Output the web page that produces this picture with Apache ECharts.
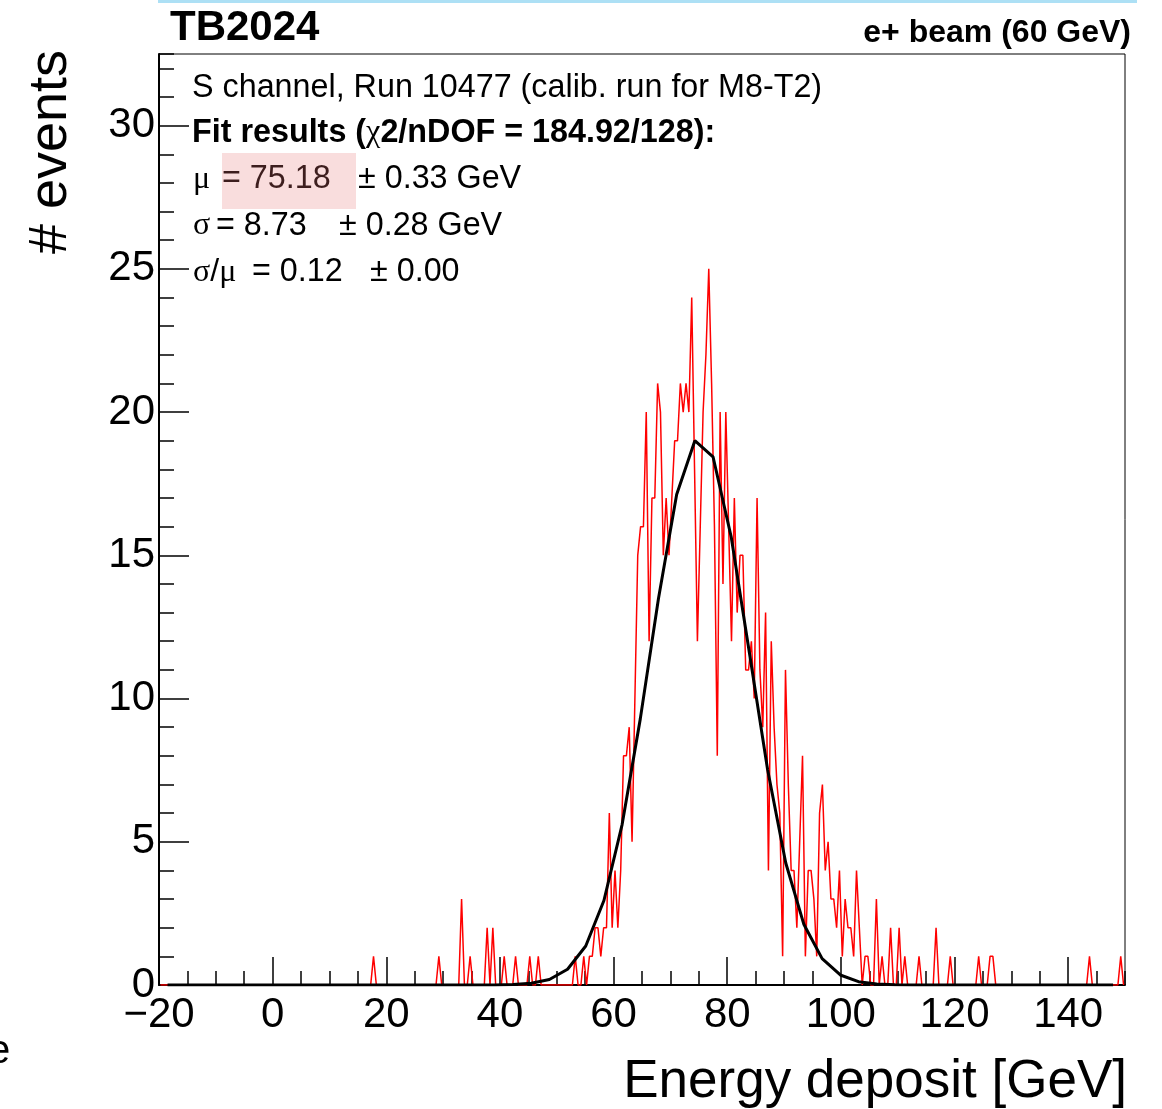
<!DOCTYPE html>
<html>
<head>
<meta charset="utf-8">
<script src="https://cdn.jsdelivr.net/npm/echarts@6/dist/echarts.min.js"></script>
<style>
  html, body { margin: 0; padding: 0; background: #ffffff; }
  #chart { width: 1162px; height: 1109px; }
</style>
</head>
<body>
<div id="chart"></div>
<script>
// ---------------- data ----------------
// histogram: 340 bins of 0.5 GeV from -20 to 150 GeV (counts per bin)
const binLow = -20;
const binWidth = 0.5;
const counts = [
  0,0,0,0,0,0,0,0,0,0,0,0,0,0,0,0,0,0,0,0,
  0,0,0,0,0,0,0,0,0,0,0,0,0,0,0,0,0,0,0,0,
  0,0,0,0,0,0,0,0,0,0,0,0,0,0,0,0,0,0,0,0,
  0,0,0,0,0,0,0,0,0,0,0,0,0,0,0,1,0,0,0,0,
  0,0,0,0,0,0,0,0,0,0,0,0,0,0,0,0,0,0,1,0,
  0,0,0,0,0,0,3,0,0,1,0,0,0,0,0,2,0,2,0,0,
  0,1,0,0,0,1,0,0,0,0,1,0,0,1,0,0,0,0,0,0,
  0,0,0,0,0,0,1,0,0,1,0,1,1,2,2,1,2,2,6,2,
  4,2,4,8,8,9,5,10,15,16,16,20,12,17,17,21,20,15,17,15,
  17,19,19,21,20,21,20,24,18,12,16,20,22,25,21,16,8,20,14,20,
  16,12,17,13,15,15,11,11,12,10,17,11,9,13,4,12,9,7,6,1,
  11,7,4,4,2,5,8,1,4,4,3,1,6,7,4,5,3,3,2,4,
  1,3,2,2,1,4,2,0,1,1,0,0,3,0,1,0,0,2,0,0,
  2,0,1,0,0,0,0,1,0,0,0,0,0,2,0,0,0,0,1,0,
  0,0,0,0,0,0,0,0,1,0,0,0,1,1,0,0,0,0,0,0,
  0,0,0,0,0,0,0,0,0,0,0,0,0,0,0,0,0,0,0,0,
  0,0,0,0,0,0,0,1,0,0,0,0,0,0,0,0,0,0,1,0
];

// fitted Gaussian as drawn
const fitX = [-18.5, 36.3, 39.1, 42.3, 45.5, 48.7, 51.9, 55.1, 58.3, 61.5, 64.7, 67.9, 71.1, 74.3,
              77.5, 80.7, 83.9, 87.1, 90.3, 93.5, 96.7, 99.9, 103.1, 106.3, 109.5, 112.7, 147.9];
const fitY = [0, 0.001, 0.004, 0.016, 0.059, 0.19, 0.55, 1.36, 2.95, 5.6, 9.29, 13.49, 17.12, 19.0,
              18.44, 15.64, 11.6, 7.52, 4.26, 2.11, 0.92, 0.35, 0.115, 0.033, 0.008, 0.002, 0];

// axis ticks
const xMin = -20, xMax = 150, xMajor = 20, xMinor = 5;
const yMin = 0, yMax = 32.5, yMajor = 5, yMinor = 1;

// texts
const titleLeft = 'TB2024';
const titleRight = 'e+ beam (60 GeV)';
const xTitle = 'Energy deposit [GeV]';
const yTitle = '# events';
const infoLine1 = 'S channel, Run 10477 (calib. run for M8-T2)';

// ---------------- chart ----------------
const sans = '"Liberation Sans", Arial, Helvetica, sans-serif';
const serif = '"Liberation Serif", "Times New Roman", serif';

const histData = counts.map((c, i) => [binLow + binWidth * (i + 0.5), c]);
const fitData = fitX.map((x, i) => [x, fitY[i]]);

function txt(x, y, text, size, opts) {
  opts = opts || {};
  return {
    type: 'text', x: x, y: y, rotation: opts.rotation || 0, silent: true, z: 10,
    style: {
      text: text,
      fontSize: size,
      fontFamily: opts.family || sans,
      fontWeight: opts.weight || 'normal',
      fill: opts.color || '#000',
      textAlign: opts.align || 'left',
      textVerticalAlign: 'middle',
      align: opts.align || 'left',
      verticalAlign: 'middle',
      rich: opts.rich
    }
  };
}

const tickStyle = { color: '#000', width: 1.5 };
const chart = echarts.init(document.getElementById('chart'), null, { renderer: 'canvas' });

const option = {
  animation: false,
  backgroundColor: '#ffffff',
  grid: {
    left: 159, top: 54, width: 966, height: 931,
    show: true, borderColor: '#000', borderWidth: 1, backgroundColor: 'transparent'
  },
  xAxis: [
    {
      type: 'value', min: xMin, max: xMax, interval: xMajor, position: 'bottom',
      axisLine: { show: true, onZero: false, lineStyle: { color: '#000', width: 2 } },
      axisTick: { show: true, inside: true, length: 28, lineStyle: tickStyle },
      splitLine: { show: false },
      axisLabel: {
        show: true, fontSize: 42, fontFamily: sans, color: '#000', margin: 9,
        showMaxLabel: false, showMinLabel: true,
        formatter: v => (v < 0 ? '\u2212' + (-v) : String(v))
      }
    },
    {
      type: 'value', min: xMin, max: xMax, interval: xMinor, position: 'bottom',
      axisLine: { show: false, onZero: false },
      axisTick: { show: true, inside: true, length: 14, lineStyle: tickStyle },
      splitLine: { show: false },
      axisLabel: { show: false }
    }
  ],
  yAxis: [
    {
      type: 'value', min: yMin, max: yMax, interval: yMajor, position: 'left',
      axisLine: { show: true, onZero: false, lineStyle: { color: '#000', width: 2 } },
      axisTick: { show: true, inside: true, length: 30, lineStyle: tickStyle },
      splitLine: { show: false },
      axisLabel: {
        show: true, fontSize: 42, fontFamily: sans, color: '#000', margin: 4,
        showMaxLabel: false, showMinLabel: true
      }
    },
    {
      type: 'value', min: yMin, max: yMax, interval: yMinor, position: 'left',
      axisLine: { show: false, onZero: false },
      axisTick: { show: true, inside: true, length: 15, lineStyle: tickStyle },
      splitLine: { show: false },
      axisLabel: { show: false }
    }
  ],
  series: [
    {
      name: 'data', type: 'line', xAxisIndex: 0, yAxisIndex: 0,
      data: histData, symbol: 'none', showSymbol: false,
      lineStyle: { color: '#ff0000', width: 1.5 }, z: 3, silent: true
    },
    {
      name: 'fit', type: 'line', xAxisIndex: 0, yAxisIndex: 0,
      data: fitData, symbol: 'none', showSymbol: false,
      lineStyle: { color: '#000000', width: 3 }, z: 4, silent: true
    }
  ],
  graphic: {
    elements: [
      { type: 'rect', shape: { x: 158, y: 0, width: 979, height: 3 }, style: { fill: '#ade0f5' }, silent: true, z: 1 },
      txt(170, 28.5, titleLeft, 42, { weight: 'bold' }),
      txt(1131, 33, titleRight, 32, { weight: 'bold', align: 'right' }),
      txt(1127, 1082, xTitle, 53, { align: 'right' }),
      txt(51, 152, yTitle, 54, { align: 'center', rotation: Math.PI / 2 }),
      txt(-12, 1052, 'e', 40, {}),
      // info box
      txt(192, 88.5, infoLine1, 32.3, {}),
      txt(192, 133, '{b|Fit results (}{g|\u03c7}{b|2/nDOF = 184.92/128):}', 32, {
        rich: {
          b: { fontSize: 32.3, fontWeight: 'bold', fontFamily: sans, fill: '#000' },
          g: { fontSize: 32.3, fontWeight: 'normal', fontFamily: serif, fill: '#000' }
        }
      }),
      { type: 'rect', shape: { x: 222, y: 153, width: 134, height: 56 }, style: { fill: '#f9dddd' }, silent: true, z: 9 },
      txt(193, 179.5, '\u03bc', 32, { family: serif }),
      txt(222, 179.5, '= 75.18', 32.3, { color: '#3d1e1e' }),
      txt(358, 179.5, '\u00b1 0.33 GeV', 32.3, {}),
      txt(193, 226, '\u03c3', 32, { family: serif }),
      txt(216, 226, '= 8.73', 32.3, {}),
      txt(339, 226, '\u00b1 0.28 GeV', 32.3, {}),
      txt(193, 272.5, '{g|\u03c3}{s|/}{g|\u03bc}', 32, {
        rich: {
          g: { fontSize: 32, fontFamily: serif, fill: '#000' },
          s: { fontSize: 32, fontFamily: sans, fill: '#000' }
        }
      }),
      txt(252, 272.5, '= 0.12', 32.3, {}),
      txt(370, 272.5, '\u00b1 0.00', 32.3, {})
    ]
  }
};

chart.setOption(option);
</script>
</body>
</html>
